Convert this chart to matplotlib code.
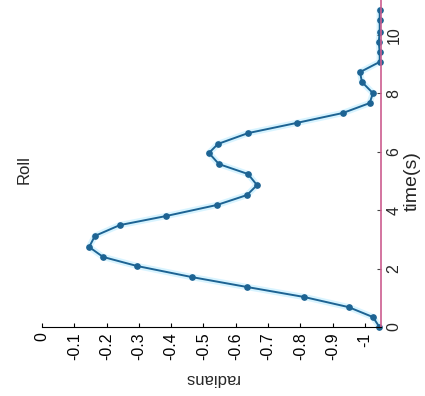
import numpy as np
import matplotlib.pyplot as plt

plt.rcParams['font.family'] = ['Liberation Sans', 'DejaVu Sans']

# Roll angle over time
time_s = [0.0, 0.34, 0.68, 1.03, 1.37, 1.71, 2.09, 2.40, 2.74, 3.12, 3.49,
          3.80, 4.18, 4.52, 4.86, 5.24, 5.58, 5.96, 6.27, 6.64, 6.99, 7.33,
          7.67, 8.01, 8.39, 8.73, 9.08, 9.42, 9.76, 10.10, 10.51, 10.86]
roll_rad = [-1.045, -1.025, -0.950, -0.811, -0.635, -0.464, -0.294, -0.189,
            -0.146, -0.164, -0.241, -0.384, -0.542, -0.635, -0.666, -0.638,
            -0.548, -0.517, -0.545, -0.638, -0.789, -0.932, -1.015, -1.025,
            -0.991, -0.985, -1.046, -1.046, -1.043, -1.046, -1.046, -1.046]

rad_ticks = [0, -0.1, -0.2, -0.3, -0.4, -0.5, -0.6, -0.7, -0.8, -0.9, -1]
rad_labels = ['0', '-0.1', '-0.2', '-0.3', '-0.4', '-0.5', '-0.6', '-0.7',
              '-0.8', '-0.9', '-1']
time_ticks = [0, 2, 4, 6, 8, 10]

line_col = '#1d6393'
axis_pink = '#cc5c8f'
txt_col = '#262626'

fig = plt.figure(figsize=(4.25, 3.96), dpi=100)
ax = fig.add_axes([42 / 425, 69 / 396, 339 / 425, 327 / 396])

# the chart is a rotated plot: radians run left->right, time bottom->top
ax.plot(roll_rad, time_s, color='#d8f4ff', lw=4.5, solid_capstyle='round', zorder=1)
ax.plot(roll_rad, time_s, color=line_col, lw=1.4, marker='o', ms=3.8,
        mfc=line_col, mec=line_col, zorder=2, clip_on=False)

ax.set_xlim(0, -1.05)
ax.set_ylim(0, 11.2)

ax.spines['top'].set_visible(False)
ax.spines['left'].set_visible(False)
ax.spines['bottom'].set_color('black')
ax.spines['right'].set_color(axis_pink)
ax.spines['right'].set_linewidth(1.2)

ax.set_xticks(rad_ticks)
ax.set_xticklabels(rad_labels, rotation=90, fontsize=11.5, color=txt_col)
ax.tick_params(axis='x', direction='in', length=3, width=0.8, pad=4, colors='black')

ax.yaxis.tick_right()
ax.set_yticks(time_ticks)
ax.set_yticklabels([str(t) for t in time_ticks], rotation=90, fontsize=11.5,
                   va='center', color=txt_col)
ax.tick_params(axis='y', direction='in', length=3, width=0.8, pad=4,
               color='#444444')

fig.text(211 / 425, 1 - 378 / 396, 'radians', rotation=180, fontsize=12,
         ha='center', va='center', color=txt_col)
fig.text(412 / 425, 1 - 181 / 396, 'time(s)', rotation=90, fontsize=14,
         ha='center', va='center', color=txt_col)
fig.text(24 / 425, 1 - 170 / 396, 'Roll', rotation=90, fontsize=12,
         ha='center', va='center', color=txt_col)

fig.savefig('out.png', dpi=100)
